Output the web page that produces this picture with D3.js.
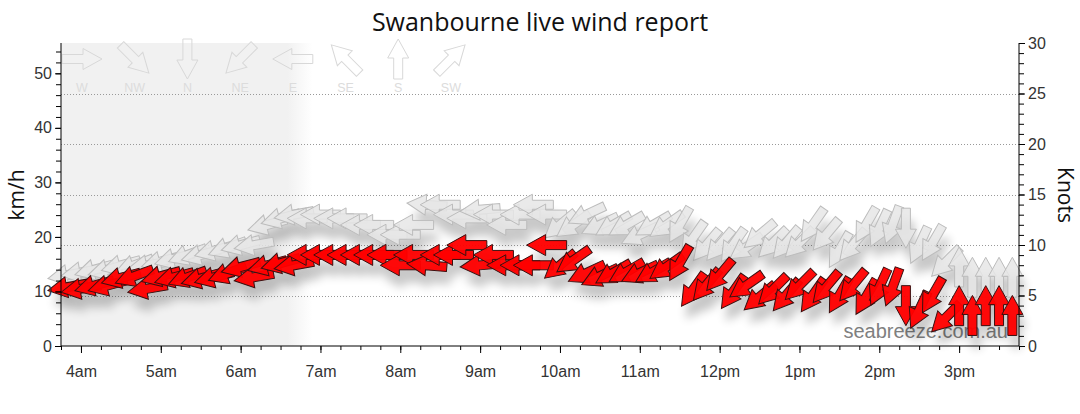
<!DOCTYPE html>
<html><head><meta charset="utf-8">
<script src="https://cdn.jsdelivr.net/npm/d3@7"></script>
<style>body{margin:0;background:#fff}svg{display:block}</style>
</head><body><svg id="c" width="1080" height="414"></svg>
<script>
// ---- data ----
const times = ["03:50","04:00","04:10","04:20","04:30","04:40","04:50","05:00","05:10","05:20",
"05:30","05:40","05:50","06:00","06:10","06:20","06:30","06:40","06:50","07:00",
"07:10","07:20","07:30","07:40","07:50","08:00","08:10","08:20","08:30","08:40",
"08:50","09:00","09:10","09:20","09:30","09:40","09:50","10:00","10:10","10:20",
"10:30","10:40","10:50","11:00","11:10","11:20","11:30","11:40","11:50","12:00",
"12:10","12:20","12:30","12:40","12:50","13:00","13:10","13:20","13:30","13:40",
"13:50","14:00","14:10","14:20","14:30","14:40","14:50","15:00","15:10","15:20",
"15:30","15:40"];
const windKmh = [10.8,10.5,11.1,11.1,12.5,12.8,10.5,12.8,12.6,12.6,
12.4,12.6,13.3,14.5,12.6,14.8,15.2,14.8,16.7,16.7,
16.7,16.7,16.7,16.7,16.7,14.8,16.7,14.8,16.7,16.7,
18.5,14.8,16.7,14.8,14.8,14.8,18.5,14.8,15.7,13.4,
12.8,13.4,13.6,13.4,13.6,14.5,15.2,10.3,11.2,13.0,
9.9,11.1,9.0,10.3,9.3,11.1,9.3,10.8,9.3,11.1,
9.0,10.8,10.8,7.4,6.6,9.3,5.2,7.4,5.6,7.4,
7.4,5.6];
const gustKmh = [13.0,13.5,14.0,14.0,14.8,14.8,14.8,15.5,16.0,16.7,
16.7,17.5,18.0,18.5,18.5,22.2,23.4,24.1,23.4,24.1,
23.4,23.4,22.2,22.2,20.4,20.4,22.2,25.9,25.9,24.1,
23.4,25.0,24.1,22.2,24.1,25.9,24.1,22.2,22.2,24.1,
22.2,22.2,22.2,20.4,22.2,22.2,22.2,19.8,18.5,18.5,
18.5,18.1,20.4,18.9,18.9,18.9,22.2,20.4,17.6,18.5,
22.2,21.6,22.2,21.6,18.5,18.9,15.4,14.5,12.6,12.6,
12.6,12.6];
const dirDeg = [80,80,75,75,75,70,80,75,75,70,
75,75,70,75,80,75,75,80,90,90,
90,90,90,90,90,90,90,95,90,90,
90,85,90,90,90,90,90,50,55,65,
65,60,60,65,60,55,30,35,40,40,
35,55,50,45,40,45,35,40,30,40,
30,25,20,0,25,30,45,180,180,180,
180,180];
const legendNames = ["W","NW","N","NE","E","SE","S","SW"];
const legendDeg = [270,315,0,45,90,135,180,225];
const kmhTicks = [0,10,20,30,40,50];
const knotTicks = [0,5,10,15,20,25,30];
const knotGrid = [5,10,15,20,25];
const hourTicks = ["04:00","05:00","06:00","07:00","08:00","09:00","10:00","11:00","12:00","13:00","14:00","15:00"];
const domainStart = "03:45", domainEnd = "15:45", nightEnd = "06:54";

// ---- layout ----
const M = {l:61, r:1019, t:43, b:346};
const KN = 1.852;
const svg = d3.select("#c");
const parse = s => { const [h,m] = s.split(":").map(Number); return new Date(2024,0,1,h,m); };
const x = d3.scaleTime().domain([parse(domainStart), parse(domainEnd)]).range([M.l, M.r]);
const y = d3.scaleLinear().domain([0, 30*KN]).range([M.b, M.t]);
const yk = d3.scaleLinear().domain([0, 30]).range([M.b, M.t]);
const FONT = "'Liberation Sans', Arial, sans-serif";

const defs = svg.append("defs");
const grad = defs.append("linearGradient").attr("id","night").attr("x1",0).attr("x2",1).attr("y1",0).attr("y2",0);
grad.append("stop").attr("offset","0").attr("stop-color","#f1f1f1");
grad.append("stop").attr("offset","0.9").attr("stop-color","#f1f1f1");
grad.append("stop").attr("offset","1").attr("stop-color","#ffffff");
const flt = defs.append("filter").attr("id","sh").attr("x","-10%").attr("y","-50%").attr("width","120%").attr("height","200%");
flt.append("feGaussianBlur").attr("stdDeviation",5);

// night shading
svg.append("rect").attr("x", M.l).attr("y", M.t)
  .attr("width", x(parse(nightEnd)) - M.l).attr("height", M.b - M.t)
  .attr("fill","url(#night)");

// grid
svg.append("g").selectAll("line").data(knotGrid).join("line")
  .attr("x1", M.l).attr("x2", M.r).attr("y1", d => Math.round(yk(d))+0.5).attr("y2", d => Math.round(yk(d))+0.5)
  .attr("stroke","#999").attr("stroke-dasharray","1,2");

// arrow shape (pointing east, centred)
const arrowPath = "M-20,-4.5L1,-4.5L1,-10.5L20,0L1,10.5L1,4.5L-20,4.5Z";
const rot = d => d + 90;

// legend
const lg = svg.append("g");
legendNames.forEach((n,i) => {
  const cx = 82 + i*52.7;
  lg.append("path").attr("d", arrowPath)
    .attr("transform", `translate(${cx},59) rotate(${rot(legendDeg[i])})`)
    .attr("fill","none").attr("stroke","#d8d8d8").attr("stroke-width",1);
  lg.append("text").attr("x", cx).attr("y", 92).attr("text-anchor","middle")
    .attr("font-family", FONT).attr("font-size", 12.5).attr("fill","#dcdcdc").text(n);
});

const obs = times.map((t,i) => ({t: parse(t), w: windKmh[i], g: gustKmh[i], d: dirDeg[i]}));

function layer(key, fill, stroke, sw, op) {
  svg.append("g").attr("transform","translate(4,13)").attr("filter","url(#sh)").attr("opacity",0.22)
    .selectAll("path").data(obs).join("path").attr("d", arrowPath)
    .attr("transform", d => `translate(${x(d.t)},${y(d[key])}) rotate(${rot(d.d)})`)
    .attr("fill","#000");
  svg.append("g").selectAll("path").data(obs).join("path").attr("d", arrowPath)
    .attr("transform", d => `translate(${x(d.t)},${y(d[key])}) rotate(${rot(d.d)})`)
    .attr("fill", fill).attr("fill-opacity", op).attr("stroke", stroke).attr("stroke-width", sw)
    .attr("stroke-linejoin","miter");
}
layer("g", "#e6e6e6", "#bcbcbc", 1, 0.85);

// watermark
svg.append("text").attr("x", 1008).attr("y", 338).attr("text-anchor","end")
  .attr("font-family", FONT).attr("font-size", 20).attr("fill","#808080").text("seabreeze.com.au");

layer("w", "#ff0000", "#3a1010", 1, 0.96);

// axes
const ax = svg.append("g").attr("font-family", FONT);
const left = ax.append("g").attr("transform",`translate(${M.l},0)`)
  .call(d3.axisLeft(y).tickValues(kmhTicks).tickSize(6).tickPadding(3).tickFormat(d3.format("d")));
ax.append("g").attr("transform",`translate(${M.l},0)`)
  .call(d3.axisLeft(y).tickValues(d3.range(0, 56, 2)).tickSize(5).tickFormat(""))
  .select(".domain").remove();
const right = ax.append("g").attr("transform",`translate(${M.r},0)`)
  .call(d3.axisRight(yk).tickValues(knotTicks).tickSize(6).tickPadding(3).tickFormat(d3.format("d")));
ax.append("g").attr("transform",`translate(${M.r},0)`)
  .call(d3.axisRight(yk).tickValues(d3.range(0, 31, 1)).tickSize(5).tickFormat(""))
  .select(".domain").remove();
const bottom = ax.append("g").attr("transform",`translate(0,${M.b})`)
  .call(d3.axisBottom(x).tickValues(hourTicks.map(parse)).tickSize(7).tickPadding(13)
    .tickFormat(d => d3.timeFormat("%-I%p")(d).toLowerCase()));
ax.append("g").attr("transform",`translate(0,${M.b})`)
  .call(d3.axisBottom(x).ticks(d3.timeMinute.every(15)).tickSize(4).tickFormat(""))
  .select(".domain").remove();
[left, right].forEach(g => g.selectAll("text").attr("font-size", 16).attr("fill","#333"));
bottom.selectAll("text").attr("font-size", 16).attr("fill","#333");
ax.selectAll(".domain").attr("stroke","#000");
ax.selectAll(".tick line").attr("stroke","#000");
left.select(".domain").attr("d", `M0,${M.t}V${M.b}`);
right.select(".domain").attr("d", `M0,${M.t}V${M.b}`);
bottom.select(".domain").attr("d", `M${M.l},0H${M.r}`);

// titles
svg.append("text").attr("x", 540).attr("y", 31).attr("text-anchor","middle")
  .attr("font-family","'Open Sans', sans-serif").attr("font-size", 25).attr("fill","#111")
  .text("Swanbourne live wind report");
svg.append("text").attr("transform","translate(24,195) rotate(-90)").attr("text-anchor","middle")
  .attr("font-family","'Open Sans', sans-serif").attr("font-size", 21).attr("fill","#111").text("km/h");
svg.append("text").attr("transform","translate(1058,195) rotate(90)").attr("text-anchor","middle")
  .attr("font-family","'Open Sans', sans-serif").attr("font-size", 21).attr("fill","#111").text("Knots");
</script></body></html>
